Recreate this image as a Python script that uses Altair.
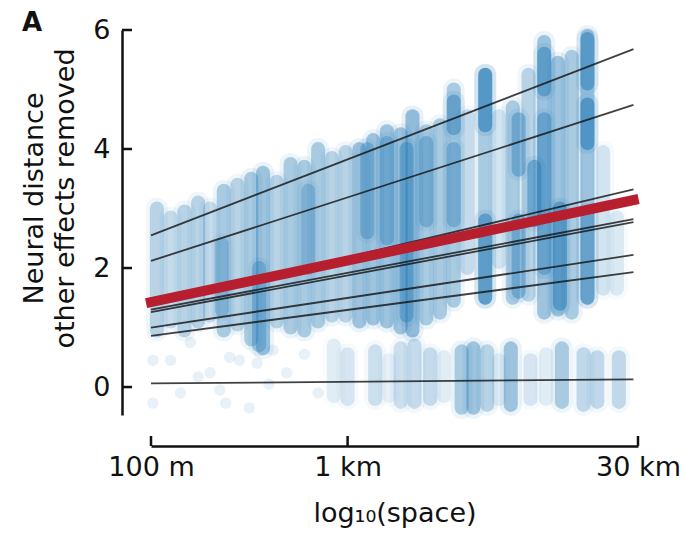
import altair as alt
import pandas as pd

# ---- point clouds (vertical streaks of points) ----
strip_x  = [2.03, 2.10, 2.17, 2.24, 2.30, 2.37, 2.44, 2.51, 2.57, 2.64, 2.71, 2.78, 2.85, 2.92, 2.99,
            3.06, 3.13, 3.20, 3.27, 3.33, 3.40, 3.47, 3.54, 3.61, 3.70, 3.77, 3.84, 3.92, 4.00, 4.07,
            4.14, 4.22, 4.30, 4.37,
            2.55, 2.36, 2.80, 3.10, 3.20, 3.30, 3.40, 3.54, 3.54, 3.70, 3.70, 3.87, 3.87, 4.00, 4.00,
            4.08, 4.22, 4.22, 4.22, 3.95,
            2.93, 3.00, 3.14, 3.21, 3.27, 3.34, 3.42, 3.49, 3.58, 3.64, 3.71, 3.77, 3.83, 3.93, 4.01,
            4.09, 4.20, 4.27, 4.38]
strip_lo = [0.95, 1.10, 0.95, 1.10, 1.20, 0.95, 1.05, 0.80, 0.65, 1.10, 1.00, 0.95, 1.10, 1.20, 1.20,
            1.10, 1.15, 1.10, 1.00, 0.95, 1.15, 1.25, 1.45, 2.00, 1.50, 2.10, 1.50, 1.55, 1.25, 1.30,
            1.25, 1.50, 1.65, 1.65,
            0.70, 1.30, 2.00, 2.60, 2.50, 1.20, 2.80, 4.35, 2.80, 4.40, 1.50, 3.65, 1.60, 5.00, 2.00,
            1.40, 5.10, 4.10, 1.50, 2.80,
            -0.15, -0.20, -0.20, -0.15, -0.25, -0.25, -0.20, -0.15, -0.35, -0.35, -0.30, -0.20, -0.30,
            -0.20, -0.20, -0.25, -0.30, -0.25, -0.25]
strip_hi = [3.00, 2.85, 2.95, 3.10, 3.00, 3.30, 3.40, 3.50, 3.60, 3.45, 3.75, 3.70, 4.00, 3.85, 3.95,
            4.00, 4.15, 4.30, 4.25, 4.55, 4.30, 4.40, 5.00, 4.55, 5.25, 4.55, 4.70, 5.25, 5.80, 5.45,
            5.55, 5.90, 3.95, 2.85,
            2.00, 2.40, 3.30, 4.00, 4.10, 4.00, 4.10, 4.80, 4.00, 5.25, 2.80, 4.50, 2.80, 5.60, 4.50,
            3.00, 5.85, 4.75, 2.90, 3.70,
            0.70, 0.55, 0.60, 0.45, 0.65, 0.70, 0.55, 0.50, 0.60, 0.65, 0.60, 0.45, 0.65, 0.45, 0.55,
            0.65, 0.55, 0.50, 0.50]
strip_op = [.25, .2, .25, .25, .2, .3, .25, .3, .35, .25, .3, .3, .3, .25, .25,
            .35, .35, .35, .35, .4, .3, .3, .3, .2, .3, .15, .3, .25, .35, .35,
            .3, .35, .15, .12,
            .3, .25, .25, .3, .3, .35, .3, .4, .3, .5, .45, .35, .35, .4, .35,
            .45, .45, .5, .35, .4,
            .1, .14, .18, .08, .18, .2, .2, .1, .3, .35, .25, .1, .35, .14, .1,
            .3, .22, .22, .22]

# scattered single points near zero on the left
dot_x = [2.01, 2.10, 2.15, 2.24, 2.35, 2.40, 2.45, 2.38, 2.54, 2.69, 2.01, 2.30, 2.60, 2.78, 2.50, 2.85, 2.20, 2.62]
dot_y = [0.45, 0.45, -0.10, 0.17, -0.05, 0.50, 0.45, -0.27, 0.40, 0.24, -0.27, 0.24, 0.05, 0.55, -0.35, -0.10, 0.75, 0.62]

# ---- regression lines (endpoints) ----
line_id = ["L1", "L2", "L3", "L4", "L5", "L6", "L7", "L8"]
line_x0 = [2.0] * 8
line_x1 = [4.454] * 8
line_y0 = [2.55, 2.12, 1.40, 1.30, 1.26, 1.00, 0.86, 0.06]
line_y1 = [5.68, 4.74, 3.32, 2.82, 2.77, 2.22, 1.93, 0.13]
red_x = [1.975, 4.48]
red_y = [1.41, 3.16]

xtick_vals = [2, 3, 4.4771]
ytick_vals = [0, 2, 4, 6]

W, H = 487, 385
FONT = "DejaVu Sans"
INK = "#111111"
BLUE = "#1f77b4"
FS = 27

strip_df = pd.DataFrame({"x": strip_x, "lo": strip_lo, "hi": strip_hi, "op": strip_op})
dot_df = pd.DataFrame({"x": dot_x, "y": dot_y})
rows = []
for i, lid in enumerate(line_id):
    rows.append({"id": lid, "x": line_x0[i], "y": line_y0[i]})
    rows.append({"id": lid, "x": line_x1[i], "y": line_y1[i]})
line_df = pd.DataFrame(rows)
red_df = pd.DataFrame({"x": red_x, "y": red_y})

xs = alt.Scale(domain=[2, 4.4771], nice=False, zero=False)
ys = alt.Scale(domain=[-0.47, 6], nice=False, zero=False)

x_axis = alt.Axis(values=xtick_vals,
                  labelExpr="datum.value == 2 ? '100 m' : datum.value == 3 ? '1 km' : '30 km'",
                  ticks=False, grid=False, offset=31, domainWidth=2.5, domainColor=INK,
                  labelFont=FONT, labelFontSize=FS, labelColor=INK, labelPadding=8,
                  labelFlush=False, labelOverlap=False,
                  title="log₁₀(space)", titleFont=FONT, titleFontSize=FS, titleFontWeight="normal",
                  titleColor=INK, titlePadding=20)
y_axis = alt.Axis(values=ytick_vals, ticks=False, grid=False, offset=29, domainWidth=2.5,
                  domainColor=INK, labelFont=FONT, labelFontSize=FS, labelColor=INK,
                  labelPadding=12, labelOverlap=False,
                  title=["Neural distance", "other effects removed"], titleFont=FONT,
                  titleFontSize=FS, titleFontWeight="normal", titleColor=INK, titlePadding=13,
                  titleLineHeight=31, titleY=168)

halo = alt.Chart(strip_df).transform_calculate(op2="datum.op * 0.25").mark_rule(
    strokeCap="round", strokeWidth=22, color=BLUE).encode(
    x=alt.X("x:Q", scale=xs, axis=x_axis),
    y=alt.Y("lo:Q", scale=ys, axis=y_axis),
    y2="hi:Q",
    opacity=alt.Opacity("op2:Q", scale=None),
)

strips = alt.Chart(strip_df).transform_calculate(op3="min(datum.op * 1.1, 0.8)").mark_rule(
    strokeCap="round", strokeWidth=14, color=BLUE).encode(
    x=alt.X("x:Q", scale=xs, axis=x_axis),
    y=alt.Y("lo:Q", scale=ys, axis=y_axis),
    y2="hi:Q",
    opacity=alt.Opacity("op3:Q", scale=None),
)

dots = alt.Chart(dot_df).mark_circle(size=130, color=BLUE, opacity=0.1).encode(
    x=alt.X("x:Q", scale=xs, axis=x_axis),
    y=alt.Y("y:Q", scale=ys, axis=y_axis),
)

black = alt.Chart(line_df).mark_line(color=INK, strokeWidth=1.8, opacity=0.8).encode(
    x=alt.X("x:Q", scale=xs, axis=x_axis),
    y=alt.Y("y:Q", scale=ys, axis=y_axis),
    detail="id:N",
)

red = alt.Chart(red_df).mark_line(color="#b81f2e", strokeWidth=10, strokeCap="butt").encode(
    x=alt.X("x:Q", scale=xs, axis=x_axis),
    y=alt.Y("y:Q", scale=ys, axis=y_axis),
)

xt = alt.Chart(pd.DataFrame({"v": xtick_vals})).mark_rule(color=INK, strokeWidth=2.5).encode(
    x=alt.X("v:Q", scale=xs, axis=x_axis),
    y=alt.value(H + 31), y2=alt.value(H + 21),
)
yt = alt.Chart(pd.DataFrame({"v": ytick_vals})).mark_rule(color=INK, strokeWidth=2.5).encode(
    y=alt.Y("v:Q", scale=ys, axis=y_axis),
    x=alt.value(-29), x2=alt.value(-19),
)

panel = alt.Chart(pd.DataFrame({"t": ["A"]})).mark_text(
    font=FONT, fontSize=26, fontWeight="bold", align="left", baseline="top", color=INK
).encode(text="t:N", x=alt.value(-129), y=alt.value(-20))

chart = alt.layer(halo, strips, dots, black, red, xt, yt, panel).properties(
    width=W, height=H,
    padding={"left": 143, "top": 22, "right": 50, "bottom": 118},
    autosize=alt.AutoSizeParams(type="none"),
).configure_view(stroke=None)

chart.save("out.html", embed_options={"renderer": "svg", "actions": False})
